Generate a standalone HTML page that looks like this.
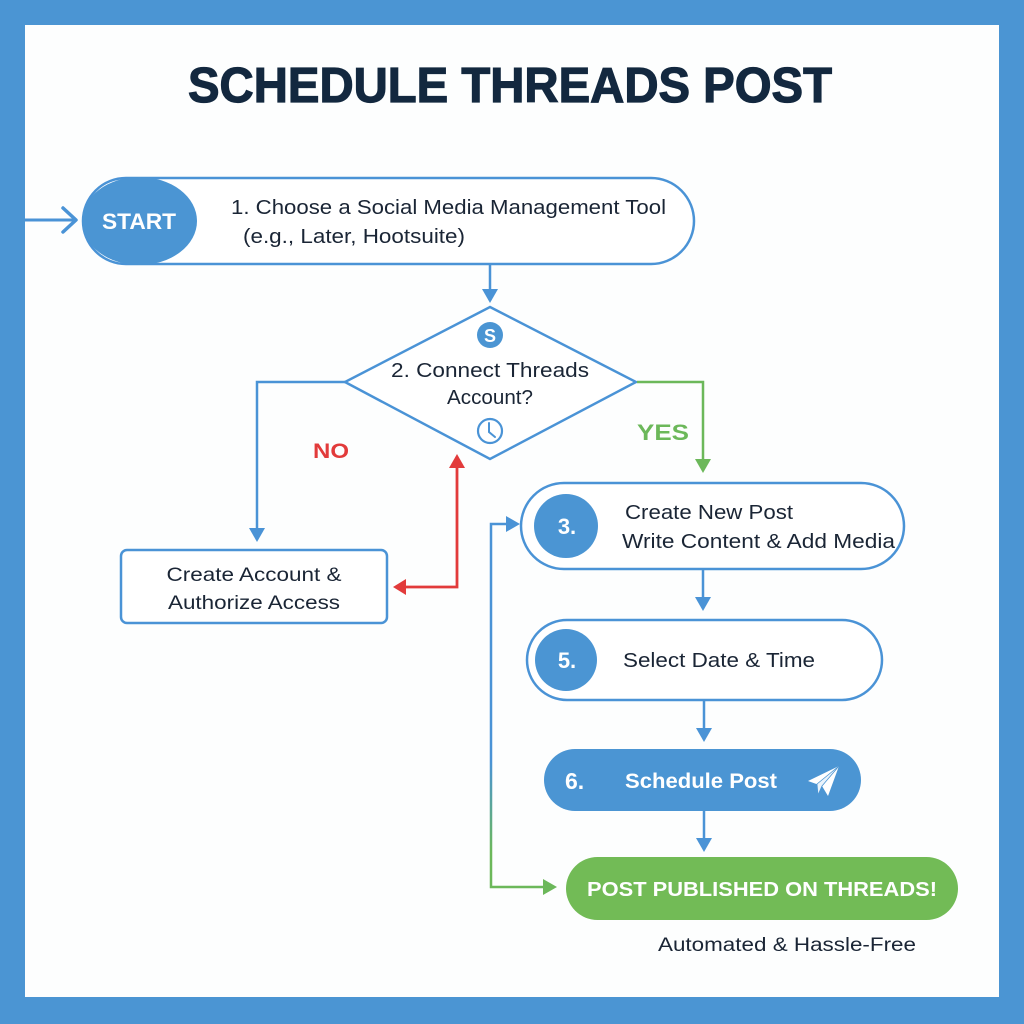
<!DOCTYPE html>
<html>
<head>
<meta charset="utf-8">
<style>
  html, body { margin:0; padding:0; background:#4b95d3; }
  body { width:1024px; height:1024px; overflow:hidden; }
  svg { display:block; }
  text { font-family: "Liberation Sans", "DejaVu Sans", sans-serif; }
</style>
</head>
<body>
<svg width="1024" height="1024" viewBox="0 0 1024 1024" xmlns="http://www.w3.org/2000/svg">
  <defs>
    <linearGradient id="loopGrad" x1="0" y1="524" x2="0" y2="889" gradientUnits="userSpaceOnUse">
      <stop offset="0" stop-color="#4a93d6"/>
      <stop offset="0.65" stop-color="#4a93d6"/>
      <stop offset="0.9" stop-color="#6cb85a"/>
      <stop offset="1" stop-color="#6cb85a"/>
    </linearGradient>
  </defs>

  <!-- frame -->
  <rect x="0" y="0" width="1024" height="1024" fill="#4b95d3"/>
  <rect x="25" y="25" width="974" height="972" fill="#fdfefe"/>

  <!-- title -->
  <text x="510" y="102" text-anchor="middle" font-size="49" font-weight="bold" fill="#13283f" stroke="#13283f" stroke-width="1.2" textLength="644" lengthAdjust="spacingAndGlyphs">SCHEDULE THREADS POST</text>

  <!-- entry arrow -->
  <line x1="25" y1="220" x2="76" y2="220" stroke="#4a93d6" stroke-width="3"/>
  <polyline points="63,208 76,220 63,232" fill="none" stroke="#4a93d6" stroke-width="3.5" stroke-linejoin="round" stroke-linecap="round"/>

  <!-- start pill -->
  <rect x="83" y="178" width="611" height="86" rx="43" fill="#fff" stroke="#4a93d6" stroke-width="2.5"/>
  <ellipse cx="139.5" cy="221" rx="57.5" ry="44" fill="#4b95d3"/>
  <text x="139" y="229" text-anchor="middle" font-size="22" font-weight="bold" fill="#fff" textLength="74" lengthAdjust="spacingAndGlyphs">START</text>
  <text x="231" y="214" font-size="20" fill="#1a2535" textLength="435" lengthAdjust="spacingAndGlyphs">1. Choose a Social Media Management Tool</text>
  <text x="243" y="243" font-size="20" fill="#1a2535" textLength="222" lengthAdjust="spacingAndGlyphs">(e.g., Later, Hootsuite)</text>

  <!-- arrow to diamond -->
  <line x1="490" y1="264" x2="490" y2="292" stroke="#4a93d6" stroke-width="2.5"/>
  <polygon points="482,289 498,289 490,303" fill="#4a93d6"/>

  <!-- diamond -->
  <polygon points="490,307 636,382 490,459 345,382" fill="#fff" stroke="#4a93d6" stroke-width="2.5" stroke-linejoin="miter"/>
  <circle cx="490" cy="335" r="13" fill="#4b95d3"/>
  <text x="490" y="342" text-anchor="middle" font-size="18" font-weight="bold" fill="#fff">S</text>
  <text x="490" y="377" text-anchor="middle" font-size="20" fill="#1a2535" textLength="198" lengthAdjust="spacingAndGlyphs">2. Connect Threads</text>
  <text x="490" y="404" text-anchor="middle" font-size="20" fill="#1a2535" textLength="86" lengthAdjust="spacingAndGlyphs">Account?</text>
  <circle cx="490" cy="431" r="12" fill="none" stroke="#4a93d6" stroke-width="2.2"/>
  <polyline points="489,423 489,432 495,437" fill="none" stroke="#4a93d6" stroke-width="2" stroke-linecap="round"/>

  <!-- NO connector -->
  <polyline points="345,382 257,382 257,532" fill="none" stroke="#4a93d6" stroke-width="2.5"/>
  <polygon points="249,528 265,528 257,542" fill="#4a93d6"/>
  <text x="313" y="458" font-size="21" font-weight="bold" fill="#e23b3b" textLength="36" lengthAdjust="spacingAndGlyphs">NO</text>

  <!-- create account box -->
  <rect x="121" y="550" width="266" height="73" rx="6" fill="#fff" stroke="#4a93d6" stroke-width="2.5"/>
  <text x="254" y="581" text-anchor="middle" font-size="19.5" fill="#1a2535" textLength="175" lengthAdjust="spacingAndGlyphs">Create Account &amp;</text>
  <text x="254" y="609" text-anchor="middle" font-size="19.5" fill="#1a2535" textLength="172" lengthAdjust="spacingAndGlyphs">Authorize Access</text>

  <!-- red connector -->
  <polyline points="457,466 457,587 404,587" fill="none" stroke="#e23b3b" stroke-width="2.8"/>
  <polygon points="449,468 465,468 457,454" fill="#e23b3b"/>
  <polygon points="406,579 406,595 393,587" fill="#e23b3b"/>

  <!-- YES connector -->
  <polyline points="637,382 703,382 703,462" fill="none" stroke="#6cb85a" stroke-width="2.5"/>
  <polygon points="695,459 711,459 703,473" fill="#6cb85a"/>
  <text x="637" y="440" font-size="22" font-weight="bold" fill="#6cb85a" textLength="52" lengthAdjust="spacingAndGlyphs">YES</text>

  <!-- step 3 -->
  <rect x="521" y="483" width="383" height="86" rx="43" fill="#fff" stroke="#4a93d6" stroke-width="2.5"/>
  <circle cx="566" cy="526" r="32" fill="#4b95d3"/>
  <text x="567" y="534" text-anchor="middle" font-size="22" font-weight="bold" fill="#fff">3.</text>
  <text x="625" y="519" font-size="20" fill="#1a2535" textLength="168" lengthAdjust="spacingAndGlyphs">Create New Post</text>
  <text x="622" y="548" font-size="20" fill="#1a2535" textLength="273" lengthAdjust="spacingAndGlyphs">Write Content &amp; Add Media</text>

  <!-- arrow 3 -> 5 -->
  <line x1="703" y1="569" x2="703" y2="600" stroke="#4a93d6" stroke-width="2.5"/>
  <polygon points="695,597 711,597 703,611" fill="#4a93d6"/>

  <!-- step 5 -->
  <rect x="527" y="620" width="355" height="80" rx="40" fill="#fff" stroke="#4a93d6" stroke-width="2.5"/>
  <circle cx="566" cy="660" r="31" fill="#4b95d3"/>
  <text x="567" y="668" text-anchor="middle" font-size="22" font-weight="bold" fill="#fff">5.</text>
  <text x="623" y="667" font-size="20" fill="#1a2535" textLength="192" lengthAdjust="spacingAndGlyphs">Select Date &amp; Time</text>

  <!-- arrow 5 -> 6 -->
  <line x1="704" y1="700" x2="704" y2="731" stroke="#4a93d6" stroke-width="2.5"/>
  <polygon points="696,728 712,728 704,742" fill="#4a93d6"/>

  <!-- step 6 -->
  <rect x="544" y="749" width="317" height="62" rx="31" fill="#4b95d3"/>
  <text x="565" y="789" font-size="23" font-weight="bold" fill="#fff">6.</text>
  <text x="625" y="788" font-size="21" font-weight="bold" fill="#fff" textLength="152" lengthAdjust="spacingAndGlyphs">Schedule Post</text>
  <!-- paper plane -->
  <polygon points="808,781 839,766 828,796 822,786" fill="#fff"/>
  <polygon points="822,786 839,766 817,784 818,795" fill="#eaf3fb" stroke="#4b95d3" stroke-width="0.8"/>

  <!-- arrow 6 -> final -->
  <line x1="704" y1="811" x2="704" y2="841" stroke="#4a93d6" stroke-width="2.5"/>
  <polygon points="696,838 712,838 704,852" fill="#4a93d6"/>

  <!-- loop connector -->
  <polyline points="545,887 491,887 491,524 508,524" fill="none" stroke="url(#loopGrad)" stroke-width="2.5"/>
  <polygon points="506,516 506,532 520,524" fill="#4a93d6"/>
  <polygon points="543,879 543,895 557,887" fill="#6cb85a"/>

  <!-- final pill -->
  <rect x="566" y="857" width="392" height="63" rx="31.5" fill="#72bb56"/>
  <text x="762" y="896" text-anchor="middle" font-size="20" font-weight="bold" fill="#fff" textLength="350" lengthAdjust="spacingAndGlyphs">POST PUBLISHED ON THREADS!</text>

  <text x="658" y="951" font-size="19" fill="#1a2535" textLength="258" lengthAdjust="spacingAndGlyphs">Automated &amp; Hassle-Free</text>
</svg>
</body>
</html>
